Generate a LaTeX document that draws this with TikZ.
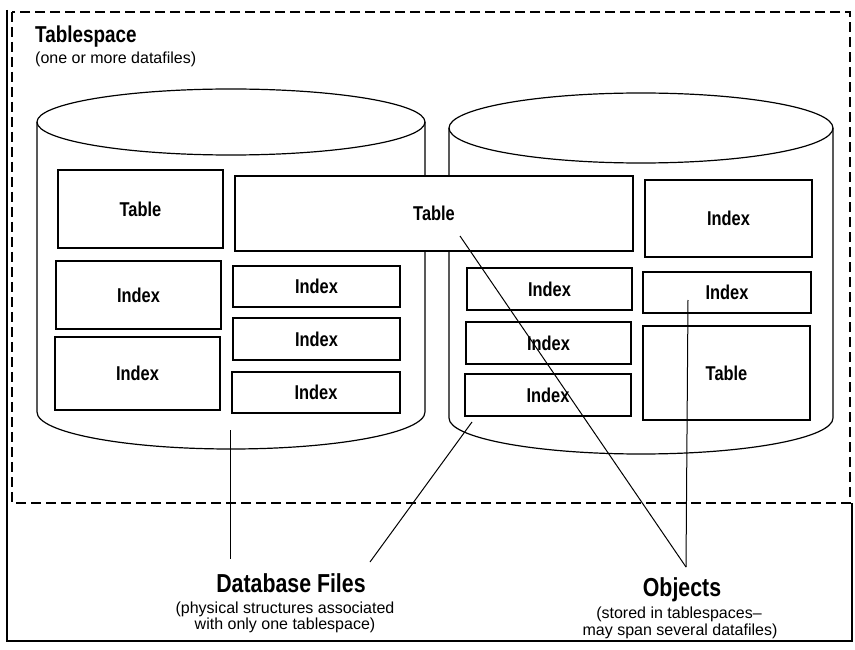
\documentclass[tikz,border=0pt]{standalone}
\usepackage{fontspec}
\setmainfont{Liberation Sans}
\newfontfamily\condfont[FakeStretch=0.82]{Liberation Sans}
\begin{document}
\begin{tikzpicture}[x=1pt,y=-1pt,
  box/.style={draw, fill=white, line width=1.3pt, inner sep=0pt, outer sep=0pt,
    font=\condfont\bfseries\fontsize{20}{20}\selectfont},
  cyl/.style={draw, line width=1.2pt},
  link/.style={line width=1pt},
  frame/.style={line width=1.1pt},
  tsframe/.style={line width=1.2pt, dash pattern=on 10pt off 5pt},
  title/.style={inner sep=0pt, anchor=base, font=\condfont\bfseries\fontsize{26}{26}\selectfont},
  sub/.style={inner sep=0pt, anchor=base, font=\fontsize{16}{16}\selectfont}]
\useasboundingbox (0,0) rectangle (855,650);

% outer frame and the tablespace boundary
\draw[frame] (7,10) -- (7,641) -- (852,641) -- (852,503);
\draw[tsframe] (12,12) rectangle (850,503);

\node[inner sep=0pt, anchor=base west, font=\condfont\bfseries\fontsize{23}{23}\selectfont] (ts) at (35,43) {Tablespace};
\node[inner sep=0pt, anchor=base west, font=\fontsize{16}{16}\selectfont] (tsnote) at (35,64) {(one or more datafiles)};

% datafile cylinders
\draw[cyl] (37,122) -- (37,412) arc[start angle=180, end angle=360, x radius=194pt, y radius=37pt] -- (425,122);
\draw[cyl] (231,122) ellipse [x radius=194pt, y radius=33pt];
\draw[cyl] (449,128) -- (449,418) arc[start angle=180, end angle=360, x radius=192pt, y radius=36pt] -- (833,128);
\draw[cyl] (641,128) ellipse [x radius=192pt, y radius=35pt];

% segments stored in the first datafile
\node[box, minimum width=165pt, minimum height=78pt] (tabA) at (140.5,209) {Table};
\node[box, minimum width=165pt, minimum height=68pt] (ixA1) at (138.5,295) {Index};
\node[box, minimum width=165pt, minimum height=73pt] (ixA2) at (137.5,373.5) {Index};
\node[box, minimum width=167pt, minimum height=41pt] (ixB1) at (316.5,286.5) {Index};
\node[box, minimum width=167pt, minimum height=42pt] (ixB2) at (316.5,339) {Index};
\node[box, minimum width=168pt, minimum height=41pt] (ixB3) at (316,392.5) {Index};

% table spanning both datafiles
\node[box, minimum width=398pt, minimum height=75pt] (tabB) at (434,213.5) {Table};

% segments stored in the second datafile
\node[box, minimum width=165pt, minimum height=42pt] (ixC1) at (549.5,289) {Index};
\node[box, minimum width=165pt, minimum height=42pt] (ixC2) at (548.5,343) {Index};
\node[box, minimum width=166pt, minimum height=42pt] (ixC3) at (548,395) {Index};
\node[box, minimum width=167pt, minimum height=77pt] (ixD0) at (728.5,218.5) {Index};
\node[box, minimum width=168pt, minimum height=41pt] (ixD1) at (727,292.5) {Index};
\node[box, minimum width=167pt, minimum height=94pt] (tabD) at (726.5,373) {Table};

% captions
\node[title] (dbf) at (291,592) {Database Files};
\node[sub] (dbfA) at (285,613) {(physical structures associated};
\node[sub] (dbfB) at (285,629) {with only one tablespace)};
\node[title] (obj) at (682,596) {Objects};
\node[sub] (objA) at (679,618) {(stored in tablespaces--};
\node[sub] (objB) at (680,635) {may span several datafiles)};

% pointers
\coordinate (fileA) at (230,430);
\coordinate (fileB) at (472,422);
\coordinate (dbtipA) at (230,559);
\coordinate (dbtipB) at (370,562);
\coordinate (segA) at (460,236);
\coordinate (segB) at (688,300);
\coordinate (objtip) at (686,567);
\draw[link] (fileA) -- (dbtipA);
\draw[link] (fileB) -- (dbtipB);
\draw[link] (segA) -- (objtip);
\draw[link] (segB) -- (objtip);
\end{tikzpicture}
\end{document}
